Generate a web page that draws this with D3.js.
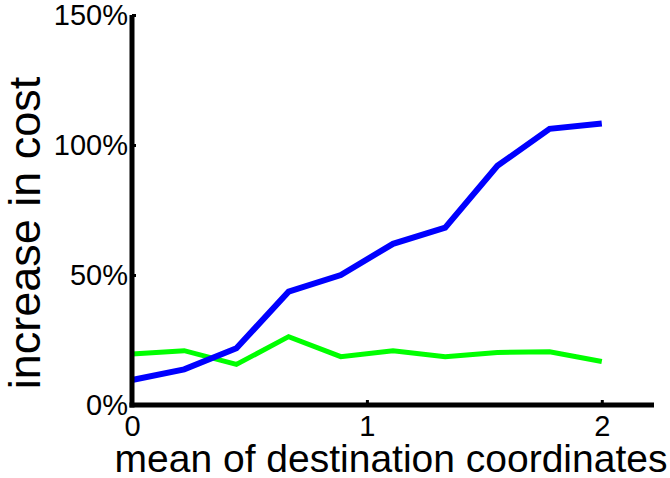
<!DOCTYPE html>
<html>
<head>
<meta charset="utf-8">
<script src="https://cdn.jsdelivr.net/npm/d3@7"></script>
<style>
  html, body { margin: 0; padding: 0; background: #fff; }
  svg { display: block; font-family: "Liberation Sans", Arial, sans-serif; }
</style>
</head>
<body>
<svg id="chart" width="670" height="478"></svg>
<script>
// Mean of destination coordinates (x values)
const xValues = [0, 2/9, 4/9, 6/9, 8/9, 10/9, 12/9, 14/9, 16/9, 2];
// Increase in cost, percent
const blueSeries = [9.6, 13.7, 21.8, 43.6, 50.0, 62.0, 68.2, 92.0, 106.2, 108.3];
const greenSeries = [19.6, 20.9, 15.6, 26.3, 18.6, 20.9, 18.6, 20.2, 20.5, 16.7];
const xTicks = [0, 1, 2];
const yTicks = [0, 50, 100, 150];

const svg = d3.select("#chart");
const plot = { left: 132, right: 654, top: 15, bottom: 405 };

const x = d3.scaleLinear().domain([0, 20/9]).range([plot.left, plot.right]);
const y = d3.scaleLinear().domain([0, 150]).range([plot.bottom, plot.top]);

const line = d3.line().x((d, i) => x(xValues[i])).y(d => y(d));

svg.append("path").datum(greenSeries)
  .attr("d", line).attr("fill", "none")
  .attr("stroke", "#00ff00").attr("stroke-width", 5)
  .attr("stroke-linejoin", "miter");

svg.append("path").datum(blueSeries)
  .attr("d", line).attr("fill", "none")
  .attr("stroke", "#0000ff").attr("stroke-width", 6)
  .attr("stroke-linejoin", "miter");

// Y axis
const yAxis = svg.append("g").attr("transform", `translate(${plot.left},0)`)
  .call(d3.axisLeft(y).tickValues(yTicks).tickFormat(d => d + "%").tickSize(-4).tickPadding(8));
yAxis.select(".domain").attr("stroke", "#000").attr("stroke-width", 5)
  .attr("d", `M0,${plot.top}V${plot.bottom + 2.5}`);
yAxis.selectAll(".tick line").attr("stroke", "#000").attr("stroke-width", 3);
yAxis.selectAll(".tick text").attr("font-size", 29).attr("fill", "#000")
  .attr("font-family", "Liberation Sans, Arial, sans-serif")
  .attr("dx", 4);

// X axis
const xAxis = svg.append("g").attr("transform", `translate(0,${plot.bottom})`)
  .call(d3.axisBottom(x).tickValues(xTicks).tickFormat(d3.format("d")).tickSize(-5).tickPadding(10));
xAxis.select(".domain").attr("stroke", "#000").attr("stroke-width", 5)
  .attr("d", `M${plot.left - 2.5},0H${plot.right}`);
xAxis.selectAll(".tick line").attr("stroke", "#000").attr("stroke-width", 3);
xAxis.selectAll(".tick text").attr("font-size", 29).attr("fill", "#000")
  .attr("font-family", "Liberation Sans, Arial, sans-serif");

// Axis titles
svg.append("text")
  .attr("x", 391).attr("y", 472)
  .attr("text-anchor", "middle")
  .attr("font-size", 39).attr("fill", "#000")
  .text("mean of destination coordinates");

svg.append("text")
  .attr("transform", "translate(40,233) rotate(-90)")
  .attr("text-anchor", "middle")
  .attr("font-size", 45).attr("fill", "#000")
  .text("increase in cost");
</script>
</body>
</html>
